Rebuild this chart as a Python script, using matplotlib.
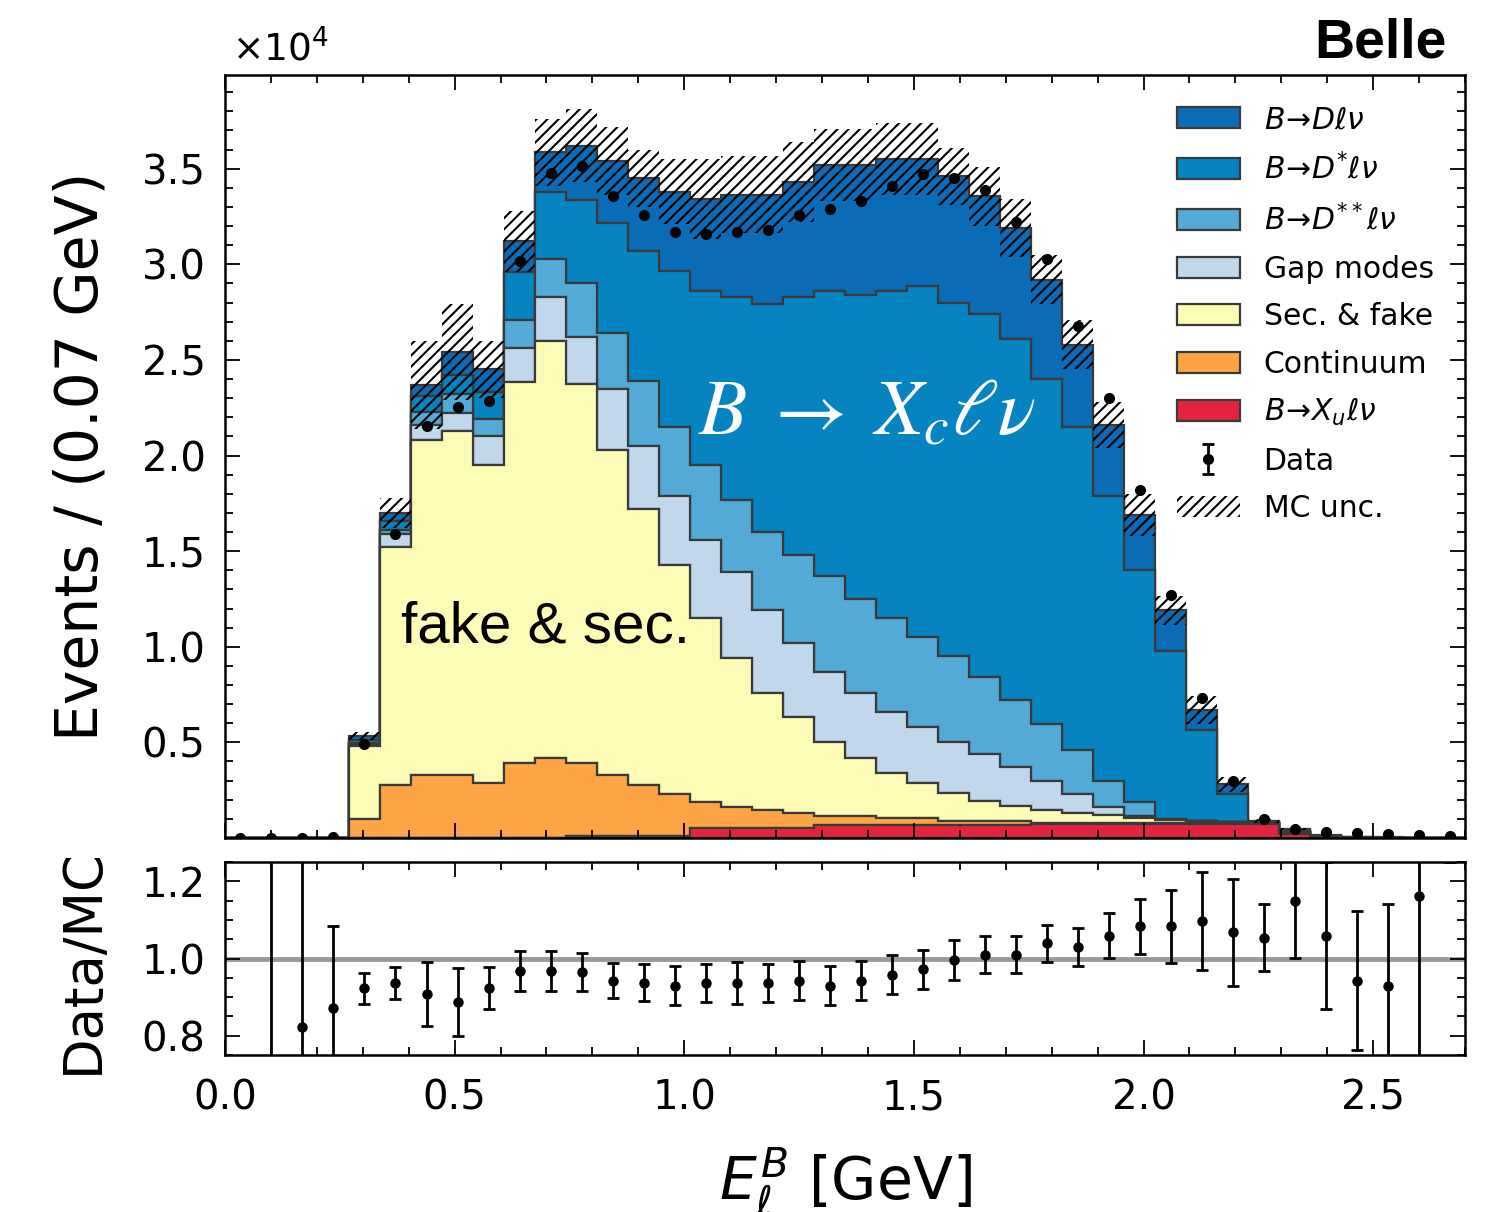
import numpy as np
import matplotlib.pyplot as plt
from matplotlib.ticker import MultipleLocator

plt.rcParams['mathtext.fontset'] = 'dejavusans'
plt.rcParams['hatch.linewidth'] = 1.5

# 40 bins of 0.0675 GeV between 0 and 2.7 GeV
bin_edges = np.linspace(0.0, 2.7, 41)
bin_centers = 0.5 * (bin_edges[1:] + bin_edges[:-1])

# stacked MC components, events in units of 10^4 (bins 0..39)
xulnu = [0, 0, 0, 0, 0, 0, 0, 0, 0, 0, 0, 0.008, 0.008, 0.008, 0.008, 0.05,
         0.05, 0.05, 0.05, 0.068, 0.068, 0.068, 0.068, 0.068, 0.068, 0.068,
         0.075, 0.075, 0.075, 0.075, 0.075, 0.075, 0.075, 0.075, 0.02, 0,
         0, 0, 0, 0]
continuum = [0, 0, 0, 0, 0.099, 0.276, 0.330, 0.330, 0.287, 0.390, 0.417,
             0.382, 0.322, 0.268, 0.223, 0.139, 0.113, 0.098, 0.081, 0.049,
             0.049, 0.036, 0.036, 0.020, 0.020, 0.020, 0.005, 0.005, 0.005,
             0.004, 0.004, 0.003, 0.003, 0.003, 0.004, 0.004, 0, 0, 0, 0]
sec_fake = [0, 0, 0, 0, 0.381, 1.244, 1.750, 1.800, 1.663, 1.995, 2.183,
            1.985, 1.700, 1.444, 1.199, 0.961, 0.777, 0.612, 0.504, 0.383,
            0.303, 0.236, 0.186, 0.147, 0.107, 0.077, 0.065, 0.050, 0.040,
            0.026, 0.016, 0.012, 0.007, 0.002, 0.006, 0.002, 0, 0, 0, 0]
gap_modes = [0, 0, 0, 0, 0.010, 0.070, 0.080, 0.090, 0.150, 0.180, 0.230,
             0.245, 0.320, 0.330, 0.360, 0.410, 0.450, 0.430, 0.385, 0.370,
             0.340, 0.320, 0.290, 0.265, 0.245, 0.205, 0.155, 0.100, 0.040,
             0.010, 0, 0, 0, 0, 0.002, 0.001, 0, 0, 0, 0]
dstst_lnu = [0, 0, 0, 0, 0.005, 0.020, 0.070, 0.100, 0.090, 0.145, 0.200,
             0.280, 0.290, 0.340, 0.360, 0.390, 0.380, 0.410, 0.460, 0.500,
             0.490, 0.490, 0.470, 0.450, 0.400, 0.350, 0.295, 0.228, 0.140,
             0.075, 0.005, 0, 0, 0, 0.001, 0.001, 0, 0, 0, 0]
dstar_lnu = [0, 0, 0, 0, 0.015, 0.050, 0.080, 0.100, 0.140, 0.250, 0.350,
             0.435, 0.575, 0.680, 0.815, 0.910, 1.060, 1.190, 1.350, 1.490,
             1.590, 1.710, 1.837, 1.850, 1.900, 1.890, 1.805, 1.692, 1.490,
             1.210, 0.880, 0.475, 0.145, 0.005, 0.007, 0.004, 0.004, 0, 0, 0]
d_lnu = [0, 0, 0, 0, 0.023, 0.040, 0.060, 0.120, 0.120, 0.160, 0.205,
         0.285, 0.325, 0.380, 0.415, 0.480, 0.535, 0.575, 0.600, 0.660,
         0.680, 0.690, 0.663, 0.660, 0.615, 0.580, 0.520, 0.430, 0.370,
         0.290, 0.210, 0.105, 0.050, 0.005, 0.005, 0.003, 0.001, 0.003, 0, 0]
mc_unc = [0, 0, 0, 0, 0.02, 0.08, 0.23, 0.25, 0.15, 0.16, 0.175, 0.19,
          0.18, 0.15, 0.17, 0.21, 0.20, 0.20, 0.21, 0.19, 0.19, 0.19, 0.19,
          0.15, 0.155, 0.15, 0.13, 0.13, 0.12, 0.11, 0.075, 0.075, 0.04,
          0.01, 0.005, 0, 0, 0, 0, 0]
data = [0.001, 0.001, 0.002, 0.003, 0.49, 1.59, 2.155, 2.255, 2.285, 3.02,
        3.48, 3.515, 3.355, 3.26, 3.17, 3.156, 3.17, 3.18, 3.26, 3.29, 3.33,
        3.41, 3.47, 3.45, 3.39, 3.22, 3.03, 2.68, 2.30, 1.82, 1.27, 0.73,
        0.30, 0.10, 0.048, 0.03, 0.025, 0.02, 0.015, 0.01]

# Data/MC ratio and its uncertainty
ratio = [np.nan, 1.5, 0.822, 0.871, 0.923, 0.937, 0.908, 0.887, 0.923,
         0.967, 0.967, 0.965, 0.943, 0.937, 0.930, 0.937, 0.937, 0.937,
         0.943, 0.930, 0.943, 0.958, 0.972, 0.996, 1.010, 1.010, 1.039,
         1.030, 1.059, 1.083, 1.083, 1.097, 1.068, 1.054, 1.148, 1.059,
         0.943, 0.930, 1.161, 1.26]
ratio_err = [np.nan, 0.9, 0.45, 0.212, 0.04, 0.041, 0.084, 0.088, 0.055,
             0.052, 0.052, 0.048, 0.045, 0.048, 0.05, 0.05, 0.055, 0.05,
             0.05, 0.05, 0.05, 0.05, 0.05, 0.052, 0.048, 0.048, 0.048, 0.05,
             0.058, 0.072, 0.095, 0.127, 0.138, 0.087, 0.146, 0.19, 0.18,
             0.21, 0.5, 0.01]

components = [xulnu, continuum, sec_fake, gap_modes, dstst_lnu, dstar_lnu, d_lnu]
labels = [r'$B\!\to\! X_u\ell\nu$', 'Continuum', 'Sec. & fake', 'Gap modes',
          r'$B\!\to\! D^{**}\ell\nu$', r'$B\!\to\! D^{*}\ell\nu$',
          r'$B\!\to\! D\ell\nu$']
colors = ['#e3243f', '#fda444', '#fcfcb6', '#c0d7ec', '#53aad6', '#0584c1',
          '#0a6cb7']

fig = plt.figure(figsize=(15.11, 12.12), dpi=100)
ax = fig.add_axes([0.1489, 0.3086, 0.8207, 0.6295])
axr = fig.add_axes([0.1489, 0.1295, 0.8207, 0.1593])

_, _, patches = ax.hist([bin_centers] * 7, bins=bin_edges, weights=components,
                        stacked=True, histtype='stepfilled', color=colors,
                        edgecolor='#3a3a3a', linewidth=1.6, label=labels)

total = np.sum(components, axis=0)
unc = np.array(mc_unc)
h_unc = ax.stairs(total + unc, bin_edges, baseline=total - unc, fill=True,
                  facecolor='none', edgecolor='black', hatch='///',
                  linewidth=0, label='MC unc.', zorder=3)

ax.plot(bin_centers, data, 'o', color='black', ms=7, zorder=4)
h_data = ax.errorbar([np.nan], [np.nan], yerr=[np.nan], fmt='o', color='black',
                     ms=7, elinewidth=2, capsize=4, capthick=2)

ax.text(0.383, 1.02, 'fake & sec.', fontsize=42, family='Liberation Sans',
        va='baseline')
ax.text(1.03, 2.115, r'$B\;\rightarrow\;X_c\ell\nu$', fontsize=57,
        color='white', math_fontfamily='stix', va='baseline')

ax.set_xlim(0, 2.7)
ax.set_ylim(0, 3.99)
ax.set_yticks([0.5, 1.0, 1.5, 2.0, 2.5, 3.0, 3.5])
ax.yaxis.set_minor_locator(MultipleLocator(0.1))
ax.xaxis.set_major_locator(MultipleLocator(0.5))
ax.xaxis.set_minor_locator(MultipleLocator(0.1))
ax.tick_params(labelbottom=False)
ax.set_ylabel('Events / (0.07 GeV)', fontsize=42)
ax.yaxis.set_label_coords(-0.093, 0.5)

fig.text(232 / 1511, 1 - 60 / 1212, r'$\times10^{4}$', fontsize=27,
         ha='left', va='baseline')
fig.text(1447 / 1511, 1 - 58 / 1212, 'Belle', fontsize=40,
         family='Liberation Sans', weight='bold', ha='right', va='baseline')

handles = [patches[6][0], patches[5][0], patches[4][0], patches[3][0],
           patches[2][0], patches[1][0], patches[0][0], h_data, h_unc]
leg_labels = [labels[6], labels[5], labels[4], labels[3], labels[2],
              labels[1], labels[0], 'Data', 'MC unc.']
ax.legend(handles, leg_labels, loc='upper left', bbox_to_anchor=(0.758, 0.976),
          borderaxespad=0, frameon=False, fontsize=21.5, handlelength=2.1,
          handletextpad=0.8, labelspacing=0.62)

# ratio panel
axr.axhline(1.0, color='#9a9a9a', lw=3.5, zorder=1)
axr.errorbar(bin_centers, ratio, yerr=ratio_err, fmt='o', color='black',
             ms=6.5, elinewidth=2, capsize=4, capthick=2, zorder=3)
axr.set_xlim(0, 2.7)
axr.set_ylim(0.75, 1.25)
axr.set_yticks([0.8, 1.0, 1.2])
axr.yaxis.set_minor_locator(MultipleLocator(0.05))
axr.xaxis.set_major_locator(MultipleLocator(0.5))
axr.xaxis.set_minor_locator(MultipleLocator(0.1))
axr.set_ylabel('Data/MC', fontsize=38)
axr.yaxis.set_label_coords(-0.094, 0.487)
axr.set_xlabel(r'$E_{\ell}^{B}$ [GeV]', fontsize=42)
axr.xaxis.set_label_coords(0.5, -0.466)

for a in (ax, axr):
    a.tick_params(which='both', direction='in', top=True, right=True,
                  labelsize=29, width=1.3)
    a.tick_params(which='major', length=11)
    a.tick_params(which='minor', length=6)
    a.tick_params(axis='y', which='major', pad=14)
    a.tick_params(axis='x', which='major', pad=17)
    for s in a.spines.values():
        s.set_linewidth(1.8)

fig.savefig('out.png', dpi=100)
